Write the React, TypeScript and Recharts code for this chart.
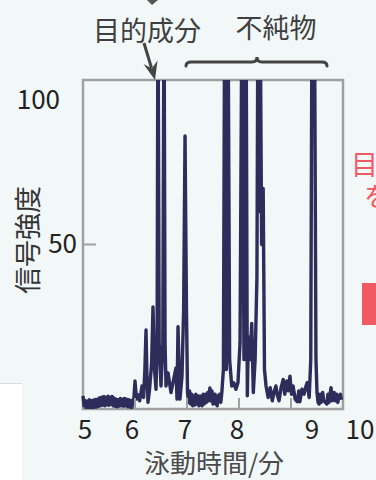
import { LineChart, Line, XAxis, YAxis, ReferenceArea } from 'recharts'

document.body.style.margin = '0'

// [retention time (min), signal intensity]; peaks above 100 run off the top of the frame
const chromatogram: [number, number][] = [
  [5.0, 4.0], [5.02, 1.0], [5.04, 2.6], [5.06, 0.3], [5.08, 2.4], [5.1, 0.2], [5.12, 2.8], [5.14, 0.4],
  [5.16, 2.5], [5.18, 0.3], [5.2, 2.7], [5.22, 0.5], [5.24, 2.9], [5.26, 0.6], [5.28, 3.0], [5.3, 0.8],
  [5.32, 3.4], [5.34, 1.0], [5.36, 3.6], [5.38, 1.2], [5.4, 3.8], [5.42, 1.0], [5.44, 3.5], [5.46, 1.3],
  [5.48, 3.9], [5.5, 1.1], [5.52, 3.6], [5.54, 1.4], [5.56, 3.8], [5.58, 1.0], [5.6, 3.3], [5.62, 0.8],
  [5.64, 3.0], [5.66, 0.7], [5.68, 2.8], [5.7, 0.9], [5.72, 3.2], [5.74, 1.0], [5.76, 3.0], [5.78, 0.8],
  [5.8, 3.2], [5.82, 1.0], [5.84, 3.0], [5.86, 0.7], [5.88, 2.8], [5.9, 0.6], [5.92, 2.6], [5.94, 0.5],
  [5.96, 2.2], [5.98, 3.5], [6.0, 8.5], [6.03, 3.0], [6.058, 4.3], [6.09, 2.5], [6.135, 7.0], [6.165, 3.5],
  [6.19, 12], [6.212, 24], [6.23, 10], [6.25, 2.0], [6.28, 6], [6.32, 14], [6.346, 31], [6.375, 12],
  [6.404, 6], [6.425, 20], [6.442, 130], [6.465, 20], [6.5, 7], [6.535, 20], [6.558, 130], [6.578, 20],
  [6.596, 7], [6.635, 11], [6.692, 5], [6.731, 8], [6.788, 12.5], [6.808, 3], [6.827, 25], [6.865, 3],
  [6.904, 10], [6.935, 30], [6.962, 83], [6.99, 30], [7.01, 5], [7.03, 2], [7.05, 5.5], [7.07, 1.5],
  [7.09, 4.5], [7.11, 1.0], [7.13, 4], [7.15, 1.2], [7.17, 4.5], [7.19, 1.5], [7.21, 4], [7.23, 1.0],
  [7.25, 4], [7.27, 1.5], [7.29, 1.0], [7.31, 4.5], [7.33, 1.5], [7.35, 4.5], [7.37, 2], [7.4, 5],
  [7.42, 2.5], [7.44, 6.4], [7.46, 2.5], [7.48, 5.5], [7.5, 1.5], [7.52, 2], [7.54, 4.5], [7.56, 1.5],
  [7.58, 1.0], [7.6, 4], [7.63, 4.5], [7.65, 2], [7.67, 5], [7.7, 12], [7.725, 130], [7.757, 12],
  [7.788, 130], [7.82, 15], [7.86, 7], [7.9, 8], [7.94, 6], [7.98, 8], [8.02, 20], [8.058, 130],
  [8.096, 15], [8.135, 130], [8.16, 4], [8.18, 22], [8.21, 15], [8.245, 26], [8.275, 5], [8.31, 15],
  [8.345, 40], [8.365, 130], [8.385, 60], [8.405, 130], [8.435, 50], [8.465, 67], [8.49, 12], [8.52, 7],
  [8.56, 3.5], [8.6, 6.5], [8.64, 2.5], [8.68, 5.5], [8.71, 7], [8.74, 4], [8.77, 2.5], [8.81, 6.5],
  [8.85, 9], [8.88, 4.5], [8.92, 8.5], [8.95, 5.5], [8.98, 10], [9.01, 4.5], [9.04, 7], [9.08, 3],
  [9.12, 2.2], [9.15, 5.5], [9.17, 2.2], [9.21, 6], [9.25, 4.5], [9.28, 6.5], [9.31, 8], [9.35, 3.5],
  [9.38, 15], [9.405, 130], [9.45, 130], [9.48, 15], [9.5, 5], [9.52, 2], [9.54, 1.5], [9.56, 4.5],
  [9.58, 2], [9.61, 5], [9.63, 2.5], [9.66, 2], [9.69, 1.5], [9.71, 4.5], [9.73, 2], [9.75, 4.5],
  [9.77, 6.5], [9.79, 2.5], [9.81, 3], [9.83, 5], [9.85, 2.5], [9.88, 4.5], [9.9, 2], [9.92, 3.5],
  [9.95, 4.5], [9.97, 2.8],
]

const timeTicks = [5, 6, 7, 8, 9, 10]
const signalTicks = [50, 100]

const xTitle = '泳動時間/分'
const yTitle = '信号強度'
const targetLabel = '目的成分'
const impurityLabel = '不純物'

const data = chromatogram.map(([time, signal]) => ({ time, signal }))

const FONT = '"Noto Sans CJK JP", "Noto Sans", sans-serif'
const TRACE = '#2d2c5b'
const FRAME = '#a0a0a0'
const INK = '#3f3f3f'

// the printed labels sit a little off their ticks in the source figure
const xLabelShift: Record<number, number> = { 5: 2, 6: -3, 7: -2, 8: -2, 9: 21, 10: 17 }
const yLabelShift: Record<number, { dx: number; dy: number }> = {
  50: { dx: -6, dy: 8 },
  100: { dx: -23, dy: 29 },
}

const XTick = ({ x, y, payload }: any) => {
  const v = payload.value
  const inner = v > 5 && v < 10
  return (
    <g>
      {inner && <line x1={x} x2={x} y1={y} y2={y - 11} stroke={FRAME} strokeWidth={2} />}
      <text
        x={x + (xLabelShift[v] ?? 0)}
        y={y + 30}
        textAnchor="middle"
        fontSize={26}
        fontFamily={FONT}
        fill="#222"
      >
        {v}
      </text>
    </g>
  )
}

const YTick = ({ x, y, payload }: any) => {
  const v = payload.value
  const shift = yLabelShift[v] ?? { dx: -6, dy: 8 }
  return (
    <g>
      {v < 100 && <line x1={x} x2={x + 13} y1={y} y2={y} stroke={FRAME} strokeWidth={2} />}
      <text
        x={x + shift.dx}
        y={y + shift.dy}
        textAnchor="end"
        fontSize={26}
        fontFamily={FONT}
        fill="#222"
      >
        {v}
      </text>
    </g>
  )
}

export default function App() {
  return (
    <div
      style={{
        position: 'relative',
        width: 376,
        height: 480,
        overflow: 'hidden',
        background: '#f2f8f8',
      }}
    >
      {/* neighbouring panels of the original figure */}
      <div
        style={{
          position: 'absolute',
          left: 0,
          top: 383,
          width: 22,
          height: 97,
          background: '#fff',
          borderTop: '1px solid #d8dcdc',
        }}
      />
      <div
        style={{
          position: 'absolute',
          left: 362,
          top: 283,
          width: 20,
          height: 42,
          background: '#f15a63',
        }}
      />

      <LineChart
        width={376}
        height={480}
        data={data}
        margin={{ top: 80, right: 33, bottom: 0, left: 0 }}
        style={{ position: 'absolute', left: 0, top: 0 }}
      >
        <XAxis
          dataKey="time"
          type="number"
          domain={[5, 10]}
          ticks={timeTicks}
          interval={0}
          height={71}
          axisLine={false}
          tickLine={false}
          tickSize={0}
          tickMargin={0}
          tick={XTick}
        />
        <YAxis
          type="number"
          domain={[0, 100]}
          allowDataOverflow
          ticks={signalTicks}
          interval={0}
          width={83}
          axisLine={false}
          tickLine={false}
          tickSize={0}
          tickMargin={0}
          tick={YTick}
        />
        <Line
          dataKey="signal"
          type="linear"
          stroke={TRACE}
          strokeWidth={3.4}
          strokeLinejoin="round"
          dot={false}
          isAnimationActive={false}
        />
        <ReferenceArea
          x1={5}
          x2={10}
          y1={0}
          y2={100}
          fill="none"
          stroke={FRAME}
          strokeWidth={2.5}
          ifOverflow="visible"
        />
      </LineChart>

      <svg
        width={376}
        height={480}
        style={{ position: 'absolute', left: 0, top: 0, pointerEvents: 'none' }}
      >
        <text x={147} y={41} textAnchor="middle" fontSize={27} fontFamily={FONT} fill={INK}>
          {targetLabel}
        </text>
        <text x={276} y={38} textAnchor="middle" fontSize={27} fontFamily={FONT} fill={INK}>
          {impurityLabel}
        </text>
        {/* arrow to the target peak */}
        <line x1={144} y1={43} x2={151.5} y2={68} stroke="#444" strokeWidth={3} />
        <polygon points="155,80 143.5,64 151.9,68.4 157.5,60.5" fill="#444" />
        <polygon points="147,0 158,0 152,5" fill="#555" />
        {/* brace over the impurity peaks */}
        <path
          d="M186 66 Q186 62 191 62 L252 62 Q257 62 257 57 Q257 62 262 62 L322 62 Q327 62 327 66"
          fill="none"
          stroke="#444"
          strokeWidth={3}
          strokeLinecap="round"
        />
        <text
          x={0}
          y={0}
          transform="translate(38 240) rotate(-90)"
          textAnchor="middle"
          fontSize={27}
          fontFamily={FONT}
          fill="#333"
        >
          {yTitle}
        </text>
        <text x={214} y={473} textAnchor="middle" fontSize={26} fontFamily={FONT} fill="#4a4a4a">
          {xTitle}
        </text>
        <text x={351} y={175} fontSize={27} fontFamily={FONT} fill="#f05a64">
          目
        </text>
        <text x={364} y={207} fontSize={27} fontFamily={FONT} fill="#f05a64">
          を
        </text>
      </svg>
    </div>
  )
}
